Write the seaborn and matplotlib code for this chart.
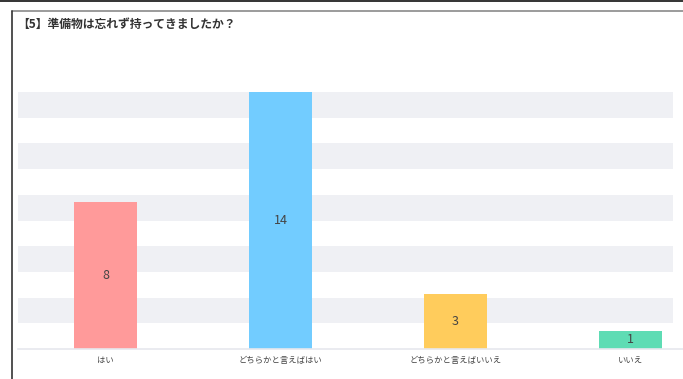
import matplotlib
matplotlib.use("Agg")
import matplotlib.pyplot as plt
from matplotlib.lines import Line2D
import seaborn as sns
import pandas as pd

categories = ["はい", "どちらかと言えばはい", "どちらかと言えばいいえ", "いいえ"]
counts = [8, 14, 3, 1]
colors = ["#FF9A9A", "#72CCFF", "#FFCC5C", "#5EDCB4"]
title = "【5】準備物は忘れず持ってきましたか？"

sns.set_theme(style="white")
plt.rcParams["font.family"] = ["Noto Sans CJK JP", "DejaVu Sans"]

W, H = 683, 379
fig = plt.figure(figsize=(W / 100, H / 100), dpi=100)
fig.patch.set_facecolor("white")

# plot area in pixel terms: left 18, baseline 349, top of scale 92
left, bottom, top = 18, 349, 92
ax = fig.add_axes([left / W, (H - bottom) / H, 700 / W, (bottom - top) / H])

df = pd.DataFrame({"category": categories, "count": counts})
sns.barplot(data=df, x="category", y="count", hue="category",
            palette=colors, width=0.355, legend=False, ax=ax,
            saturation=1, zorder=2, linewidth=0, edgecolor="none")

ymax = max(counts)
step = ymax / 10
ax.set_ylim(0, ymax)
ax.set_xlim(-0.5, len(categories) - 0.5)

# alternating grid bands
stripe_end = (673 - left) / 700
for i in range(5):
    lo = step * (2 * i + 1)
    ax.axhspan(lo, lo + step, xmin=0, xmax=stripe_end,
               color="#EFF0F4", lw=0, zorder=0)

# value labels in the middle of each bar
for i, v in enumerate(counts):
    ax.text(i, v / 2, str(v), ha="center", va="center",
            fontsize=9, color="#444444", zorder=3)

for s in ["top", "right", "left"]:
    ax.spines[s].set_visible(False)
ax.spines["bottom"].set_color("#E6E8EE")
ax.spines["bottom"].set_linewidth(1.2)
ax.set_yticks([])
ax.set_xlabel("")
ax.set_ylabel("")
ax.tick_params(axis="x", length=0, pad=5, labelsize=6, labelcolor="#444444")

fig.text(17 / W, 1 - 24 / H, title, fontsize=8.5, fontweight="bold",
         color="#333333", va="center", ha="left")

# frame lines
fig.add_artist(Line2D([0, 1], [1 - 0.8 / H, 1 - 0.8 / H], transform=fig.transFigure,
                      color="#111111", lw=1.2))
fig.add_artist(Line2D([11.5 / W, 1], [1 - 10.5 / H, 1 - 10.5 / H], transform=fig.transFigure,
                      color="#8A8A8A", lw=1.2))
fig.add_artist(Line2D([11.5 / W, 11.5 / W], [0, 1 - 10.5 / H], transform=fig.transFigure,
                      color="#333333", lw=1.2))

fig.savefig("out.png", dpi=100)
